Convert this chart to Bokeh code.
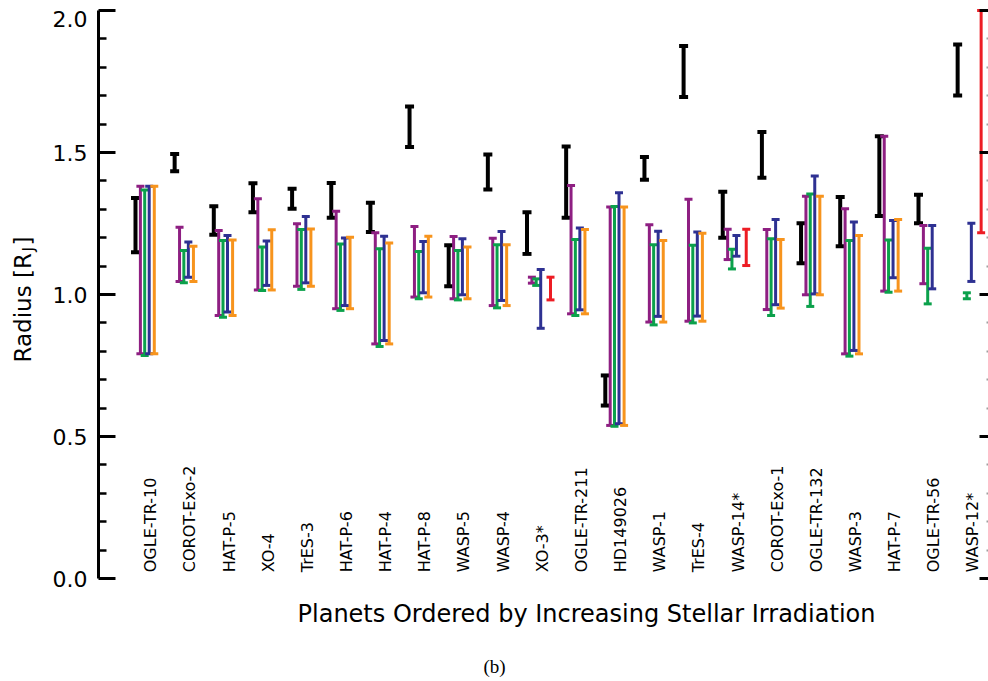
import math
from bokeh.plotting import figure
from bokeh.models import (ColumnDataSource, Whisker, TeeHead, LinearAxis,
                          FixedTicker, Range1d, Label, PrintfTickFormatter)
from bokeh.core.properties import value
from bokeh.embed import file_html
from bokeh.resources import INLINE

# ---------------- data ----------------
planets = ["OGLE-TR-10", "COROT-Exo-2", "HAT-P-5", "XO-4", "TrES-3", "HAT-P-6",
           "HAT-P-4", "HAT-P-8", "WASP-5", "WASP-4", "XO-3*", "OGLE-TR-211",
           "HD149026", "WASP-1", "TrES-4", "WASP-14*", "COROT-Exo-1",
           "OGLE-TR-132", "WASP-3", "HAT-P-7", "OGLE-TR-56", "WASP-12*"]

obs_hi = [1.340, 1.495, 1.311, 1.392, 1.372, 1.393, 1.323, 1.662, 1.173, 1.493, 1.290,
          1.521, 0.715, 1.484, 1.875, 1.362, 1.572, 1.251, 1.343, 1.557, 1.351, 1.880]
obs_lo = [1.149, 1.434, 1.210, 1.290, 1.302, 1.270, 1.220, 1.519, 1.029, 1.370, 1.143,
          1.270, 0.609, 1.404, 1.695, 1.200, 1.411, 1.110, 1.170, 1.276, 1.251, 1.701]

purple_hi = [1.381, 1.237, 1.225, 1.337, 1.249, 1.293, 1.217, 1.239, 1.204, 1.198, 1.061,
             1.384, 1.308, 1.246, 1.335, 1.230, 1.229, 1.346, 1.302, 1.557, 1.243, None]
purple_lo = [0.791, 1.046, 0.926, 1.016, 1.029, 0.950, 0.826, 0.991, 0.985, 0.961, 1.040,
             0.932, 0.539, 0.903, 0.906, 1.123, 0.947, 0.999, 0.791, 1.012, 1.038, None]

green_hi = [1.368, 1.155, 1.190, 1.167, 1.229, 1.178, 1.161, 1.151, 1.155, 1.175, 1.055,
            1.194, 1.310, 1.175, 1.173, 1.159, 1.196, 1.354, 1.190, 1.192, 1.163, 1.006]
green_lo = [0.785, 1.041, 0.920, 1.014, 1.018, 0.944, 0.817, 0.985, 0.981, 0.953, 1.032,
            0.926, 0.536, 0.893, 0.900, 1.090, 0.926, 0.958, 0.783, 1.008, 0.967, 0.985]

blue_hi = [1.381, 1.185, 1.208, 1.188, 1.275, 1.199, 1.205, 1.187, 1.196, 1.222, 1.088,
           1.234, 1.358, 1.223, 1.220, 1.208, 1.264, 1.417, 1.255, 1.261, 1.243, 1.251]
blue_lo = [0.791, 1.061, 0.938, 1.032, 1.041, 0.961, 0.838, 1.006, 0.999, 0.979, 0.881,
           0.946, 0.545, 0.923, 0.924, 1.135, 0.964, 1.002, 0.803, 1.059, 1.020, 1.046]

orange_hi = [1.381, 1.170, 1.192, 1.228, 1.231, 1.202, 1.181, 1.205, 1.167, 1.175, None,
             1.229, 1.308, 1.190, 1.216, None, 1.194, 1.346, 1.208, 1.264, None, None]
orange_lo = [0.791, 1.046, 0.926, 1.016, 1.029, 0.950, 0.826, 0.991, 0.985, 0.961, None,
             0.932, 0.539, 0.903, 0.906, None, 0.952, 0.999, 0.791, 1.012, None, None]

red_hi = [None, None, None, None, None, None, None, None, None, None, 1.061,
          None, None, None, None, 1.230, None, None, None, None, None, 2.0]
red_lo = [None, None, None, None, None, None, None, None, None, None, 0.981,
          None, None, None, None, 1.102, None, None, None, None, None, 1.217]

y_ticks = [0.0, 0.5, 1.0, 1.5]
y_top_tick = [2.0]
y_minor = [0.1, 0.2, 0.3, 0.4, 0.6, 0.7, 0.8, 0.9, 1.1, 1.2, 1.3, 1.4,
           1.6, 1.7, 1.8, 1.9]
y_bounds = (0.0, 2.0)

x_title = "Planets Ordered by Increasing Stellar Irradiation"

# ---------------- figure ----------------
FONT = "DejaVu Sans"
W, H = 988, 680
p = figure(width=W, height=H, output_backend="svg", toolbar_location=None,
           tools="", x_axis_location=None, y_axis_location=None,
           x_range=Range1d(-3.4483, 21.788), y_range=Range1d(-0.35915, 2.03521),
           min_border=0)
p.outline_line_color = None
p.grid.visible = False
p.background_fill_color = "white"
p.border_fill_color = "white"

LEFT_X = -0.9451   # location of the left axis (data units)
RIGHT_X = 21.992   # right axis sits just past the visible edge

# left axis with labelled ticks 0.0 .. 1.5
la = LinearAxis(ticker=FixedTicker(ticks=y_ticks, minor_ticks=y_minor),
                formatter=PrintfTickFormatter(format="%.1f"),
                fixed_location=LEFT_X, bounds=y_bounds)
la.axis_line_width = 3
la.major_tick_in = 17
la.major_tick_out = 0
la.minor_tick_in = 8
la.minor_tick_out = 0
la.major_tick_line_width = 3
la.minor_tick_line_width = 2.5
la.major_label_text_font = FONT
la.major_label_text_font_size = "22px"
la.major_label_text_color = "black"
la.major_label_standoff = 11
p.add_layout(la, "left")

# top tick of the left axis (its label is placed separately, a bit lower)
la2 = LinearAxis(ticker=FixedTicker(ticks=y_top_tick, minor_ticks=[]),
                 fixed_location=LEFT_X, bounds=y_bounds)
la2.axis_line_color = None
la2.major_tick_in = 17
la2.major_tick_out = 0
la2.minor_tick_in = 0
la2.minor_tick_out = 0
la2.major_tick_line_width = 3
la2.major_label_text_color = None
p.add_layout(la2, "left")

# right axis: ticks only
ra = LinearAxis(ticker=FixedTicker(ticks=y_ticks + y_top_tick, minor_ticks=y_minor),
                fixed_location=RIGHT_X, bounds=y_bounds)
ra.axis_line_color = None
ra.major_tick_in = 17
ra.major_tick_out = 0
ra.minor_tick_in = 10
ra.minor_tick_out = 0
ra.major_tick_line_width = 3
ra.minor_tick_line_width = 2
ra.minor_tick_line_color = "#a0a0a0"
ra.major_label_text_color = None
p.add_layout(ra, "right")

offsets = {"black": 0.0, "purple": 0.125, "green": 0.235, "blue": 0.35,
           "orange": 0.48, "red": 0.60}


def add_bars(hi, lo, color, off, lw, cap):
    xs, ups, los = [], [], []
    for i, (h, l) in enumerate(zip(hi, lo)):
        if h is None or l is None:
            continue
        xs.append(i + off)
        ups.append(h)
        los.append(l)
    src = ColumnDataSource(dict(x=xs, upper=ups, lower=los))
    w = Whisker(source=src, base="x", upper="upper", lower="lower",
                dimension="height", line_color=color, line_width=lw,
                upper_head=TeeHead(size=cap, line_color=color, line_width=lw),
                lower_head=TeeHead(size=cap, line_color=color, line_width=lw))
    p.add_layout(w)


add_bars(obs_hi, obs_lo, "#000000", offsets["black"], 4, 9)
add_bars(purple_hi, purple_lo, "#8e1f82", offsets["purple"], 3, 8)
add_bars(green_hi, green_lo, "#0ba14b", offsets["green"], 3, 8)
add_bars(blue_hi, blue_lo, "#2e3192", offsets["blue"], 3, 8)
add_bars(orange_hi, orange_lo, "#f7941d", offsets["orange"], 3, 8)
add_bars(red_hi, red_lo, "#ed1c24", offsets["red"], 3, 8)

# planet names (rotated)
name_src = ColumnDataSource(dict(x=[i + 0.39 for i in range(len(planets))],
                                 y=[0.022] * len(planets), text=planets))
p.text(x="x", y="y", text="text", source=name_src, angle=math.pi / 2,
       text_align="left", text_baseline="middle", text_font=value(FONT),
       text_font_size="16px", text_color="black")

# top tick label, nudged down as in the original
p.add_layout(Label(x=LEFT_X, y=2.0, x_offset=-11, y_offset=-9, text="2.0",
                   text_align="right", text_baseline="middle",
                   text_font=FONT, text_font_size="22px", text_color="black"))

# y axis title: Radius [R_J]  (screen units, origin = bottom-left of canvas)
p.add_layout(Label(x=22, y=318, x_units="screen", y_units="screen",
                   text="Radius [R", angle=math.pi / 2, text_align="left",
                   text_baseline="middle", text_font=FONT,
                   text_font_size="23px", text_color="black"))
p.add_layout(Label(x=28, y=429, x_units="screen", y_units="screen",
                   text="J", angle=math.pi / 2, text_align="left",
                   text_baseline="middle", text_font=FONT,
                   text_font_size="15px", text_color="black"))
p.add_layout(Label(x=22, y=435, x_units="screen", y_units="screen",
                   text="]", angle=math.pi / 2, text_align="left",
                   text_baseline="middle", text_font=FONT,
                   text_font_size="23px", text_color="black"))

# x axis title
p.add_layout(Label(x=586, y=67, x_units="screen", y_units="screen",
                   text=x_title, text_align="center", text_baseline="middle",
                   text_font=FONT, text_font_size="24px", text_color="black"))

# panel tag
p.add_layout(Label(x=494, y=14, x_units="screen", y_units="screen",
                   text="(b)", text_align="center", text_baseline="middle",
                   text_font="Liberation Serif", text_font_size="19px",
                   text_color="black"))

open("out.html", "w").write(file_html(p, INLINE))
